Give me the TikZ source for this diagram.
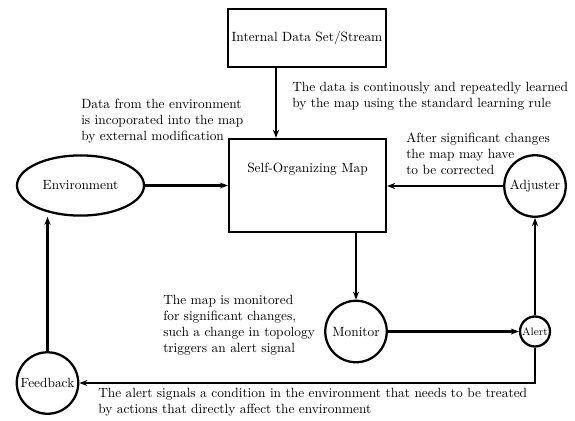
\documentclass[tikz,border=0pt]{standalone}
\usetikzlibrary{arrows.meta,shapes.geometric}
\begin{document}
\begin{tikzpicture}[x=0.748pt,y=-0.748pt,
  every node/.style={font=\normalsize},
  boxnode/.style={draw,line width=1.7pt,rectangle,inner sep=0pt},
  roundnode/.style={draw,line width=1.7pt,circle,minimum size=46pt,inner sep=1pt},
  smallround/.style={draw,line width=1.7pt,circle,minimum size=22pt,inner sep=1pt,font=\footnotesize},
  envnode/.style={draw,line width=1.7pt,ellipse,minimum width=95pt,minimum height=45pt,inner sep=0pt},
  note/.style={align=left,inner sep=0pt},
  arr/.style={line width=1.7pt,-{Stealth[length=6pt,width=4.5pt]}}
]
\useasboundingbox (0,0) rectangle (575,420);

% nodes
\node[boxnode,minimum width=118pt,minimum height=43.4pt] (ids) at (307,38) {Internal Data Set/Stream};
\node[boxnode,minimum width=117.4pt,minimum height=69.6pt] (som) at (307.5,185.5) {};
\node[inner sep=0pt] (somlabel) at (307.5,169) {Self-Organizing Map};
\node[envnode] (env) at (80.5,185.5) {Environment};
\node[roundnode] (adj) at (535,186) {Adjuster};
\node[roundnode] (mon) at (356,331.5) {Monitor};
\node[smallround] (alert) at (535,331.5) {Alert};
\node[roundnode] (fb) at (47.5,383) {Feedback};

% notes
\node[note,anchor=west] (n1) at (292,96.5) {The data is continously and repeatedly learned\\by the map using the standard learning rule};
\node[note,anchor=west] (n2) at (81,121.5) {Data from the environment\\is incoporated into the map\\by external modification};
\node[note,anchor=west] (n3) at (406,153.5) {After significant changes\\the map may have\\to be corrected};
\node[note,anchor=west] (n4) at (163,325.5) {The map is monitored\\for significant changes,\\such a change in topology\\triggers an alert signal};
\node[note,anchor=west] (n5) at (98,402.5) {The alert signals a condition in the environment that needs to be treated\\by actions that directly affect the environment};

% connectors
\coordinate (inx) at (276,0);
\draw[arr] (ids.south -| inx) -- (som.north -| inx);
\draw[arr] (env.east) -- (env.east -| som.west);
\draw[arr] (adj.west) -- (adj.west -| som.east);
\draw[arr] (som.south -| mon.north) -- (mon.north);
\draw[arr] (mon.east) -- (alert.west);
\draw[arr] (alert.north) -- (adj.south);
\draw[arr] (alert.south) |- (fb.east);
\draw[arr] (fb.north) -- (fb.north |- env.south);
\end{tikzpicture}
\end{document}
